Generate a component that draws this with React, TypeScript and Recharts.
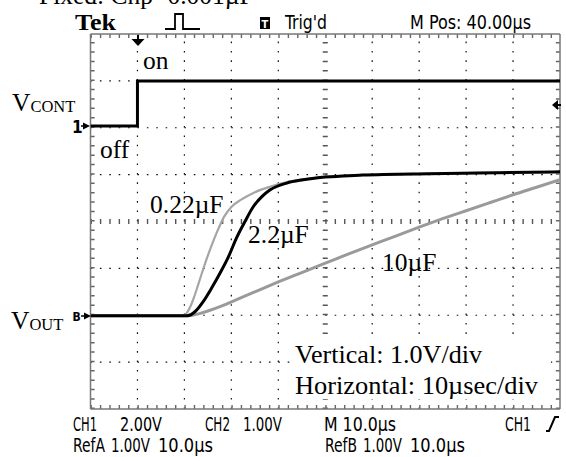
import { LineChart, Line, XAxis, YAxis, ReferenceLine } from 'recharts';

// time in µs from the trigger point, volts
const ctrlTime = [-10, 0, 0, 90];
const ctrlVolts = [0, 0, 1.92, 1.92];

// CH2: 2.2µF
const c2u2Time = [-10, 10.6, 12.3, 14.0, 15.8, 17.6, 19.4, 21.1, 22.9, 24.7, 26.5, 28.2, 31.8, 35.3, 38.9, 42.4, 48.0, 62.3, 77.2, 90];
const c2u2Volts = [0, 0, 0.09, 0.30, 0.59, 0.91, 1.26, 1.66, 2.01, 2.33, 2.54, 2.68, 2.83, 2.90, 2.95, 2.97, 3.00, 3.03, 3.05, 3.07];

// RefA: 0.22µF
const c0u22Time = [-10, 9.7, 10.5, 11.2, 12.0, 12.8, 13.7, 14.7, 15.8, 17.0, 18.5, 20.0, 22.0, 24.7, 28.2, 31.8, 35.3, 42.4, 62.3, 90];
const c0u22Volts = [0, 0, 0.06, 0.18, 0.38, 0.62, 0.90, 1.20, 1.50, 1.80, 2.12, 2.32, 2.47, 2.62, 2.75, 2.85, 2.91, 2.98, 3.03, 3.07];

// RefB: 10µF
const c10uTime = [-10, 11, 13, 15, 18, 21, 25, 30, 35, 40, 45, 50, 55, 60, 65, 70, 75, 80, 85, 90];
const c10uVolts = [0, 0, 0.04, 0.10, 0.21, 0.34, 0.51, 0.72, 0.92, 1.12, 1.32, 1.51, 1.70, 1.89, 2.07, 2.24, 2.41, 2.58, 2.74, 2.90];

// graticule
const timeLines = [0, 10, 20, 30, 50, 60, 70, 80];
const divLines = [-3, -2, -1, 1, 2, 3];

// channel settings (V/div) and ground marker positions (div from centre)
const ch1Scale = 2;
const ch1Ground = 2.04;
const outScale = 1;
const outGround = -2.01;

const toRows = (ts: number[], vs: number[], ground: number, scale: number) =>
  ts.map((t, i) => ({ t, y: ground + vs[i] / scale }));

const ctrlRows = toRows(ctrlTime, ctrlVolts, ch1Ground, ch1Scale);
const c2u2Rows = toRows(c2u2Time, c2u2Volts, outGround, outScale);
const c0u22Rows = toRows(c0u22Time, c0u22Volts, outGround, outScale);
const c10uRows = toRows(c10uTime, c10uVolts, outGround, outScale);

const W = 566;
const H = 457;
const serif = "'Liberation Serif', 'Times New Roman', serif";
const narrow = "'Liberation Sans Narrow', 'DejaVu Sans Condensed', 'Liberation Sans', sans-serif";

const DOT_X = '1.6 7.79';
const DOT_Y = '1.6 7.78';

function Tek({ x, y, w, children }: { x: number; y: number; w: number; children: string }) {
  return (
    <text x={x} y={y} fontFamily={narrow} fontSize={19} textLength={w} lengthAdjust="spacingAndGlyphs" fill="#000">
      {children}
    </text>
  );
}

function Label({ x, y, w, children }: { x: number; y: number; w?: number; children: string }) {
  return (
    <text x={x} y={y} fontFamily={serif} fontSize={25.5} fill="#000" textLength={w} lengthAdjust={w ? 'spacingAndGlyphs' : undefined}>
      {children}
    </text>
  );
}

function Overlay() {
  return (
    <svg width={W} height={H} style={{ position: 'absolute', left: 0, top: 0, pointerEvents: 'none' }}>
      <text x={39} y={4} fontFamily={serif} fontSize={25.5}>Fixed: Cnp=0.001µF</text>

      {/* header */}
      <text x={75} y={30} fontFamily={serif} fontWeight="bold" fontSize={24} textLength={41} lengthAdjust="spacingAndGlyphs">Tek</text>
      <path d="M165,29 H175 V14 H183 V29 H200" fill="none" stroke="#000" strokeWidth={1.8} />
      <rect x={260} y={17} width={10} height={12} fill="#000" />
      <text x={265} y={27.5} textAnchor="middle" fontFamily={narrow} fontWeight="bold" fontSize={11} fill="#fff">T</text>
      <Tek x={285} y={29} w={42}>Trig'd</Tek>
      <Tek x={410} y={29} w={121}>M Pos: 40.00µs</Tek>

      {/* trigger position arrow */}
      <path d="M138,35 V40" stroke="#000" strokeWidth={2} />
      <polygon points="131.5,39 144.5,39 138,46" fill="#000" />
      {/* trigger level arrow */}
      <polygon points="552,105 558,100 558,110" fill="#000" />
      <path d="M557,105 H561" stroke="#000" strokeWidth={2} />

      {/* channel markers */}
      <text x={72} y={132.5} fontFamily={narrow} fontWeight="bold" fontSize={17}>1</text>
      <polygon points="83,122.5 90,126 83,129.5" fill="#000" />
      <path d="M81,126 H85" stroke="#000" strokeWidth={1.5} />
      <text x={72.5} y={321} fontFamily={narrow} fontWeight="bold" fontSize={12}>B</text>
      <polygon points="84,312.5 91,316 84,319.5" fill="#000" />
      <path d="M81,316 H85" stroke="#000" strokeWidth={1.5} />

      {/* annotations */}
      <text x={12} y={111} fontFamily={serif} fontSize={25.5}>
        V<tspan fontSize={16.5} dy={1}>CONT</tspan>
      </text>
      <text x={11} y={329} fontFamily={serif} fontSize={25.5}>
        V<tspan fontSize={16.5} dy={1}>OUT</tspan>
      </text>
      <Label x={143} y={69}>on</Label>
      <Label x={100} y={158}>off</Label>
      <Label x={150} y={213}>0.22µF</Label>
      <Label x={248} y={243}>2.2µF</Label>
      <Label x={382} y={271}>10µF</Label>

      <rect x={291} y={337} width={260} height={62} fill="#fff" />
      <Label x={295} y={363} w={187}>Vertical: 1.0V/div</Label>
      <Label x={295} y={394} w={243}>Horizontal: 10µsec/div</Label>

      {/* status lines */}
      <Tek x={73} y={431} w={24}>CH1</Tek>
      <Tek x={120} y={431} w={42}>2.00V</Tek>
      <Tek x={205} y={431} w={25}>CH2</Tek>
      <Tek x={243} y={431} w={39}>1.00V</Tek>
      <Tek x={324} y={431} w={72}>M 10.0µs</Tek>
      <Tek x={505} y={431} w={26}>CH1</Tek>
      <path d="M546,431 H549 L555,417 H559" fill="none" stroke="#000" strokeWidth={2} />
      <Tek x={73} y={452} w={32}>RefA</Tek>
      <Tek x={111} y={452} w={39}>1.00V</Tek>
      <Tek x={158} y={452} w={55}>10.0µs</Tek>
      <Tek x={325} y={452} w={32}>RefB</Tek>
      <Tek x={363} y={452} w={39}>1.00V</Tek>
      <Tek x={410} y={452} w={55}>10.0µs</Tek>
    </svg>
  );
}

export default function App() {
  return (
    <div style={{ position: 'absolute', left: 0, top: 0, width: W, height: H, background: '#fff' }}>
      <LineChart width={W} height={H} margin={{ top: 34, right: 6, bottom: 48, left: 90.5 }}>
        <XAxis type="number" dataKey="t" domain={[-10, 90]} hide allowDataOverflow />
        <YAxis type="number" dataKey="y" domain={[-4, 4]} hide allowDataOverflow />

        {timeLines.map((t) => (
          <ReferenceLine key={`vx${t}`} x={t} stroke="#111" strokeWidth={1.2} strokeDasharray={DOT_Y} ifOverflow="visible" />
        ))}
        {divLines.map((d) => (
          <ReferenceLine key={`hy${d}`} y={d} stroke="#111" strokeWidth={1.2} strokeDasharray={DOT_X} ifOverflow="visible" />
        ))}
        {/* centre crosshair with minor ticks */}
        <ReferenceLine x={40} stroke="#555" strokeWidth={5} strokeDasharray="1.4 7.975" ifOverflow="visible" />
        <ReferenceLine y={0} stroke="#555" strokeWidth={5} strokeDasharray="1.4 7.99" ifOverflow="visible" />
        {/* border and inward ticks */}
        <ReferenceLine x={-9.55} stroke="#666" strokeWidth={4} strokeDasharray="1.4 7.975" ifOverflow="visible" />
        <ReferenceLine x={89.55} stroke="#666" strokeWidth={4} strokeDasharray="1.4 7.975" ifOverflow="visible" />
        <ReferenceLine y={-3.955} stroke="#666" strokeWidth={4} strokeDasharray="1.4 7.99" ifOverflow="visible" />
        <ReferenceLine y={3.955} stroke="#666" strokeWidth={4} strokeDasharray="1.4 7.99" ifOverflow="visible" />
        <ReferenceLine x={-10} stroke="#777" strokeWidth={1.5} ifOverflow="visible" />
        <ReferenceLine x={90} stroke="#777" strokeWidth={1.5} ifOverflow="visible" />
        <ReferenceLine y={-4} stroke="#777" strokeWidth={1.5} ifOverflow="visible" />
        <ReferenceLine y={4} stroke="#777" strokeWidth={1.5} ifOverflow="visible" />

        <Line data={c10uRows} dataKey="y" type="monotone" stroke="#9a9a9a" strokeWidth={3} dot={false} activeDot={false} isAnimationActive={false} />
        <Line data={c0u22Rows} dataKey="y" type="monotone" stroke="#a5a5a5" strokeWidth={2.2} dot={false} activeDot={false} isAnimationActive={false} />
        <Line data={c2u2Rows} dataKey="y" type="monotone" stroke="#000" strokeWidth={3} dot={false} activeDot={false} isAnimationActive={false} />
        <Line data={ctrlRows} dataKey="y" type="linear" stroke="#000" strokeWidth={3} dot={false} activeDot={false} isAnimationActive={false} />
      </LineChart>
      <Overlay />
    </div>
  );
}
